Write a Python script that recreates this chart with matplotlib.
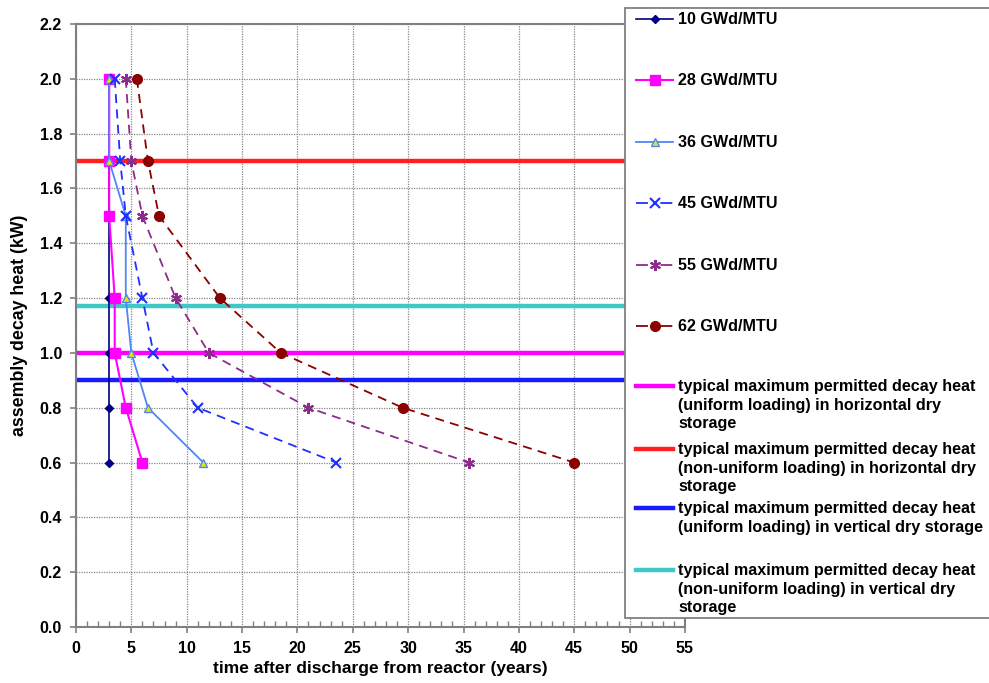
import matplotlib
matplotlib.use("Agg")
import matplotlib.pyplot as plt
from matplotlib.lines import Line2D
from matplotlib.patches import Rectangle

plt.rcParams['font.family'] = ['Liberation Sans', 'DejaVu Sans']
plt.rcParams['font.weight'] = 'bold'
plt.rcParams['axes.labelweight'] = 'bold'

# decay heat levels (kW) and time to reach them (years) per burnup
heat = [2.0, 1.7, 1.5, 1.2, 1.0, 0.8, 0.6]
t_10 = [3, 3, 3, 3, 3, 3, 3]
t_28 = [3, 3, 3, 3.5, 3.5, 4.5, 6]
t_36 = [3, 3, 4.5, 4.5, 5, 6.5, 11.5]
t_45 = [3.5, 4, 4.5, 6, 7, 11, 23.5]
t_55 = [4.5, 5, 6, 9, 12, 21, 35.5]
t_62 = [5.5, 6.5, 7.5, 13, 18.5, 29.5, 45]
burnup_labels = ['10 GWd/MTU', '28 GWd/MTU', '36 GWd/MTU',
                 '45 GWd/MTU', '55 GWd/MTU', '62 GWd/MTU']

# permitted decay heat limits (kW)
limit_values = [1.0, 1.7, 0.9, 1.17]
limit_labels = [
    'typical maximum permitted decay heat\n(uniform loading) in horizontal dry\nstorage',
    'typical maximum permitted decay heat\n(non-uniform loading) in horizontal dry\nstorage',
    'typical maximum permitted decay heat\n(uniform loading) in vertical dry storage',
    'typical maximum permitted decay heat\n(non-uniform loading) in vertical dry\nstorage',
]
limit_colors = ['#ff00ff', '#ff2020', '#1a1aff', '#40c8c8']

series = [t_10, t_28, t_36, t_45, t_55, t_62]
styles = [
    dict(color='#000080', ls='-', lw=1.2, marker='D', ms=4, mfc='#000080', mec='#000080'),
    dict(color='#ff00ff', ls='-', lw=1.5, marker='s', ms=7, mfc='#ff00ff', mec='#ff00ff'),
    dict(color='#4f86f7', ls='-', lw=1.3, marker='^', ms=6, mfc='#e6e600', mec='#4f86f7'),
    dict(color='#1f2fff', ls=(0, (5, 3.5)), lw=1.3, marker='x', ms=7, mfc='none', mec='#1f2fff', mew=1.5),
    dict(color='#8b2c8b', ls=(0, (5, 3.5)), lw=1.3, marker=(6, 2, 0), ms=8, mfc='none', mec='#8b2c8b', mew=1.5),
    dict(color='#8b0000', ls=(0, (5, 3.5)), lw=1.3, marker='o', ms=7, mfc='#8b0000', mec='#8b0000'),
]

fig = plt.figure(figsize=(9.89, 6.83), dpi=100)
ax = fig.add_axes([0.0768, 0.082, 0.6158, 0.8829])

for v, c in zip(limit_values, limit_colors):
    ax.axhline(v, color=c, lw=3.2, zorder=2)

for t, st in zip(series, styles):
    ax.plot(t, heat, zorder=3, **st)

ax.set_xlim(0, 55)
ax.set_ylim(0, 2.2)
ax.set_xticks(range(0, 56, 5))
ax.set_xticks(range(0, 56), minor=True)
ax.set_yticks([i * 0.2 for i in range(12)])
ax.set_yticklabels(['%.1f' % (i * 0.2) for i in range(12)])
ax.grid(True, which='major', color='#888888', ls=(0, (1, 1)), lw=0.9)
ax.set_axisbelow(True)
for s in ax.spines.values():
    s.set_color('#808080')
    s.set_linewidth(1.5)
ax.tick_params(axis='both', which='major', length=4, width=1.2, color='#808080',
               labelsize=11.5, pad=6)
ax.tick_params(axis='x', which='minor', direction='in', length=4, width=1, color='#808080')
ax.tick_params(axis='y', which='minor', length=0)
ax.set_xlabel('time after discharge from reactor (years)', fontsize=12.5,
              fontweight='bold', labelpad=4)
ax.set_ylabel('assembly decay heat (kW)', fontsize=12.8, fontweight='bold', labelpad=8)

# legend box drawn by hand so handles line up with the first text line
W, H = 989.0, 683.0
fig.add_artist(Rectangle((625 / W, 1 - 618 / H), 400 / W, 610 / H,
                         transform=fig.transFigure, facecolor='white',
                         edgecolor='#808080', lw=1.3, zorder=10))

def legend_row(y_px, handle_kw, text, mark=True):
    y = 1 - y_px / H
    kw = dict(handle_kw)
    m = kw.pop('marker', None)
    ms = kw.pop('ms', None)
    mfc = kw.pop('mfc', None)
    mec = kw.pop('mec', None)
    mew = kw.pop('mew', 1)
    fig.add_artist(Line2D([636 / W, 673 / W], [y, y], transform=fig.transFigure,
                          zorder=11, **kw))
    if mark and m is not None:
        fig.add_artist(Line2D([654.5 / W], [y], transform=fig.transFigure, ls='none',
                              marker=m, ms=ms, mfc=mfc, mec=mec, mew=mew, zorder=12))
    fig.text(678 / W, y + 7 / H, text, transform=fig.transFigure, fontsize=11.6,
             fontweight='bold', va='top', ha='left', zorder=12, linespacing=1.3)

row_y = [19, 80, 142, 203, 265, 326]
for yp, st, lab in zip(row_y, styles, burnup_labels):
    kw = dict(st)
    if kw['ls'] != '-':
        kw['ls'] = (0, (6.6, 6.9))
    legend_row(yp, kw, lab)

lim_y = [386, 449, 508, 570]
for yp, c, lab in zip(lim_y, limit_colors, limit_labels):
    legend_row(yp, dict(color=c, lw=3.2), lab, mark=False)

fig.savefig('out.png', dpi=100)
